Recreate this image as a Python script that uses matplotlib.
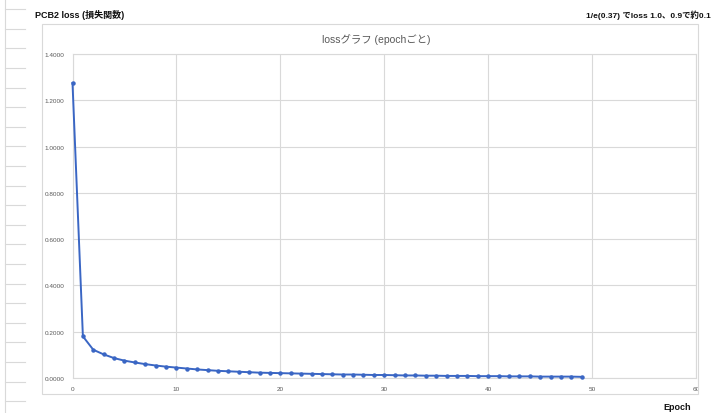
import matplotlib
matplotlib.use("Agg")
import matplotlib.pyplot as plt
from matplotlib.lines import Line2D
from matplotlib.patches import Rectangle
from matplotlib.ticker import FormatStrFormatter, MultipleLocator

plt.rcParams['font.family'] = ['Liberation Sans', 'Noto Sans CJK JP', 'DejaVu Sans']

epochs = list(range(50))
loss = [1.275, 0.180, 0.122, 0.102, 0.086, 0.075, 0.067, 0.060, 0.054, 0.049,
        0.045, 0.041, 0.037, 0.034, 0.031, 0.029, 0.027, 0.025, 0.023, 0.022,
        0.021, 0.020, 0.019, 0.018, 0.017, 0.016, 0.015, 0.015, 0.014, 0.013,
        0.013, 0.012, 0.011, 0.011, 0.010, 0.010, 0.009, 0.009, 0.009, 0.008,
        0.008, 0.008, 0.007, 0.007, 0.007, 0.006, 0.006, 0.006, 0.006, 0.005]

title = "lossグラフ (epochごと)"
header_left = "PCB2 loss (損失関数)"
header_right = "1/e(0.37) でloss 1.0、0.9で約0.1"
xlabel = "Epoch"

W, H = 712, 414
fig = plt.figure(figsize=(W / 100, H / 100), dpi=100)
fig.patch.set_facecolor('white')

def fx(px):
    return px / W

def fy(py):
    return 1 - py / H

grid_c = '#d9d9d9'

# spreadsheet row gutter
fig.add_artist(Line2D([fx(5), fx(5)], [0, 1], color=grid_c, lw=0.8, transform=fig.transFigure))
y = 10.2
while y < H:
    fig.add_artist(Line2D([fx(5), fx(25)], [fy(y), fy(y)], color=grid_c, lw=0.8,
                          transform=fig.transFigure))
    y += 19.6

# chart frame
fig.add_artist(Rectangle((fx(42), fy(395)), fx(698) - fx(42), fy(25) - fy(395),
                         fill=False, edgecolor=grid_c, lw=0.8, transform=fig.transFigure))

ax = fig.add_axes([fx(72.5), fy(379), fx(696) - fx(72.5), fy(55) - fy(379)])
ax.plot(epochs, loss, color='#3a66c4', lw=1.4, marker='o', ms=2.2,
        markerfacecolor='#3a66c4', markeredgecolor='#3a66c4', clip_on=False, zorder=3)
ax.set_xlim(0, 60)
ax.set_ylim(0, 1.4)
ax.xaxis.set_major_locator(MultipleLocator(10))
ax.yaxis.set_major_locator(MultipleLocator(0.2))
ax.yaxis.set_major_formatter(FormatStrFormatter('%.4f'))
ax.grid(True, color=grid_c, lw=0.8)
ax.set_axisbelow(True)
for s in ax.spines.values():
    s.set_color(grid_c)
    s.set_linewidth(0.8)
ax.tick_params(length=0, labelsize=4.6, labelcolor='#595959', pad=6)

fig.text(fx(376), fy(40), title, ha='center', va='center', fontsize=7.5, color='#595959')
fig.text(fx(35), fy(15), header_left, ha='left', va='center', fontsize=6.5, fontweight='bold', color='#111111')
fig.text(fx(711), fy(15), header_right, ha='right', va='center', fontsize=6.0, fontweight='bold', color='#111111')
fig.text(fx(677), fy(408), xlabel, ha='center', va='center', fontsize=6.5, fontweight='bold', color='#111111')

fig.savefig('out.png', dpi=100)
